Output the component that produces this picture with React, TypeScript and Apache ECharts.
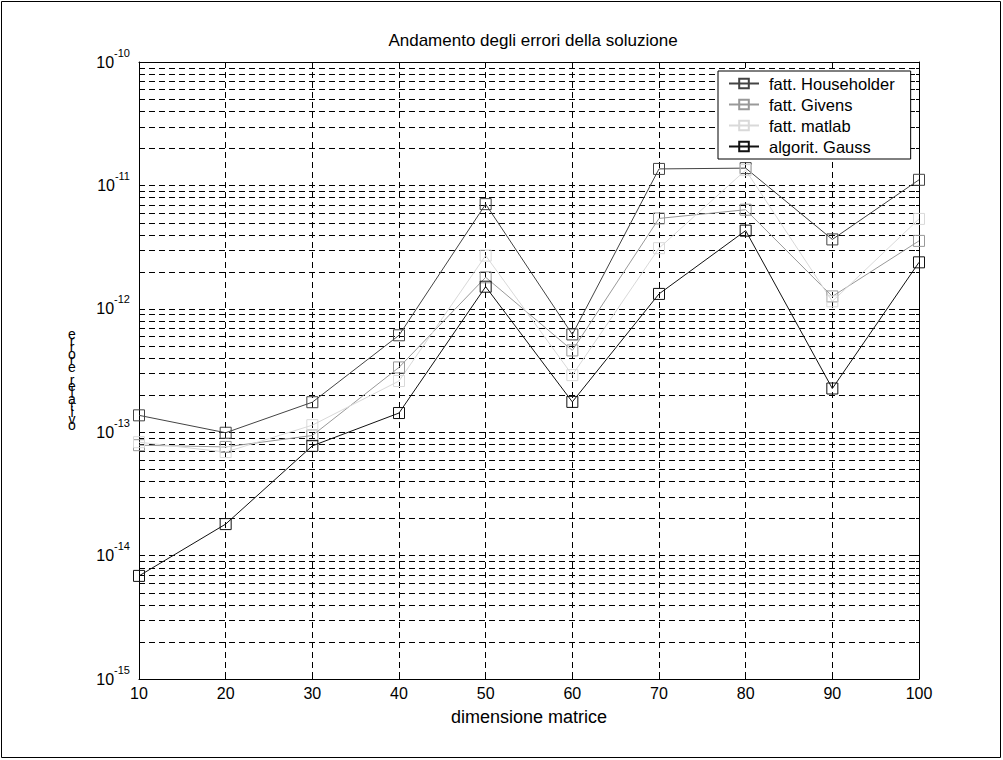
import React, { useEffect, useRef } from "react";
import * as echarts from "echarts";

const dims = [10, 20, 30, 40, 50, 60, 70, 80, 90, 100];
const householder = [1.37e-13, 0.99e-13, 1.75e-13, 6.1e-13, 7.05e-12, 6.2e-13, 1.36e-11, 1.38e-11, 3.65e-12, 1.11e-11];
const givens = [7.85e-14, 7.6e-14, 9.4e-14, 3.35e-13, 1.8e-12, 4.6e-13, 5.4e-12, 6.35e-12, 1.26e-12, 3.55e-12];
const matlab = [8.3e-14, 6.9e-14, 1.14e-13, 2.6e-13, 2.7e-12, 2.9e-13, 3.1e-12, 1.33e-11, 1.15e-12, 5.35e-12];
const gauss = [6.85e-15, 1.8e-14, 7.75e-14, 1.43e-13, 1.51e-12, 1.76e-13, 1.32e-12, 4.3e-12, 2.26e-13, 2.38e-12];

const seriesNames = ["fatt. Householder", "fatt. Givens", "fatt. matlab", "algorit. Gauss"];
const seriesColors = ["#444444", "#999999", "#d9d9d9", "#111111"];
const decades = [-15, -14, -13, -12, -11];
const minorMultipliers = [2, 3, 4, 5, 6, 7, 8, 9];

const titleText = "Andamento degli errori della soluzione";
const xName = "dimensione matrice";
const yName = "errore relativo";

const FONT = "'Liberation Sans', Arial, Helvetica, sans-serif";

export default function App() {
  const ref = useRef<HTMLDivElement>(null);
  useEffect(() => {
    if (!ref.current) return;
    const chart = echarts.init(ref.current, null, { renderer: "svg" });
    const minorValues: number[] = [];
    decades.forEach((d) => minorMultipliers.forEach((m) => minorValues.push(m * Math.pow(10, d))));
    const allData = [householder, givens, matlab, gauss];
    const dash = [6, 4];
    const yLabelFmt = (v: number) => {
      const e = Math.round(Math.log10(v));
      return `{b|10}{s|${e}}`;
    };
    const option: any = {
      animation: false,
      backgroundColor: "#fff",
      textStyle: { fontFamily: FONT },
      title: {
        text: titleText,
        left: 528,
        top: 27,
        textAlign: "center",
        textStyle: { fontFamily: FONT, fontSize: 17, fontWeight: "normal", color: "#000" },
      },
      legend: {
        data: seriesNames,
        orient: "vertical",
        left: 718,
        top: 71,
        padding: [4, 16, 4, 10],
        itemWidth: 30,
        itemHeight: 12,
        itemGap: 4,
        backgroundColor: "#fff",
        borderColor: "#000",
        borderWidth: 1,
        borderRadius: 0,
        textStyle: { fontFamily: FONT, fontSize: 16.5, lineHeight: 17, color: "#000", padding: [0, 0, 0, 5] },
      },
      grid: { left: 139, right: 84, top: 62, bottom: 81, containLabel: false },
      xAxis: [
        {
          type: "value",
          min: 10,
          max: 100,
          interval: 10,
          name: xName,
          nameLocation: "middle",
          nameGap: 29,
          nameTextStyle: { fontFamily: FONT, fontSize: 18, color: "#000" },
          axisLine: { lineStyle: { color: "#000", width: 1 } },
          axisTick: { inside: true, length: 6, lineStyle: { color: "#000" } },
          axisLabel: { fontFamily: FONT, fontSize: 16, color: "#000", margin: 6 },
          splitLine: { show: true, lineStyle: { color: "#000", type: dash, width: 1 } },
        },
        {
          type: "value",
          position: "top",
          min: 10,
          max: 100,
          interval: 10,
          axisLine: { show: true, lineStyle: { color: "#000", width: 1 } },
          axisTick: { inside: true, length: 6, lineStyle: { color: "#000" } },
          axisLabel: { show: false },
          splitLine: { show: false },
        },
      ],
      yAxis: [
        {
          type: "log",
          logBase: 10,
          min: 1e-15,
          max: 1e-10,
          splitNumber: 5,
          axisLine: { show: true, lineStyle: { color: "#000", width: 1 } },
          axisTick: { show: true, inside: true, length: 6, lineStyle: { color: "#000" } },
          axisLabel: {
            formatter: yLabelFmt,
            margin: 9,
            rich: {
              b: { fontFamily: FONT, fontSize: 16, color: "#000", lineHeight: 30, verticalAlign: "middle" },
              s: { fontFamily: FONT, fontSize: 11, color: "#000", lineHeight: 9, verticalAlign: "top" },
            },
          },
          splitLine: { show: true, lineStyle: { color: "#000", type: dash, width: 1 } },
        },
        {
          type: "log",
          logBase: 10,
          min: 1e-15,
          max: 1e-10,
          splitNumber: 5,
          position: "right",
          axisLine: { show: true, lineStyle: { color: "#000", width: 1 } },
          axisTick: { show: true, inside: true, length: 6, lineStyle: { color: "#000" } },
          axisLabel: { show: false },
          splitLine: { show: false },
        },
      ],
      series: [
        {
          type: "custom",
          name: "__minorGrid",
          silent: true,
          z: 1,
          xAxisIndex: 0,
          yAxisIndex: 0,
          data: minorValues.map((v) => [dims[0], v]),
          renderItem: (params: any, api: any) => {
            const cs = params.coordSys;
            const y = api.coord([dims[0], api.value(1)])[1];
            const yy = Math.round(y) + 0.5;
            return {
              type: "group",
              children: [
                {
                  type: "line",
                  shape: { x1: cs.x, y1: yy, x2: cs.x + cs.width, y2: yy },
                  style: { stroke: "#000", lineWidth: 1, lineDash: dash },
                },
                {
                  type: "line",
                  shape: { x1: cs.x, y1: yy, x2: cs.x + 3, y2: yy },
                  style: { stroke: "#000", lineWidth: 1 },
                },
                {
                  type: "line",
                  shape: { x1: cs.x + cs.width - 3, y1: yy, x2: cs.x + cs.width, y2: yy },
                  style: { stroke: "#000", lineWidth: 1 },
                },
              ],
            };
          },
        },
        ...seriesNames.map((name, i) => ({
          type: "line",
          name,
          z: 3,
          data: dims.map((d, j) => [d, allData[i][j]]),
          symbol: "rect",
          symbolSize: 11,
          showSymbol: true,
          lineStyle: { color: seriesColors[i], width: 1 },
          itemStyle: { color: "transparent", borderColor: seriesColors[i], borderWidth: 1 },
          emphasis: { disabled: true },
        })),
      ],
      graphic: [
        {
          type: "text",
          x: 72,
          y: 331,
          silent: true,
          style: {
            text: yName.split("").join("\n"),
            fontFamily: FONT,
            fontSize: 14,
            lineHeight: 6.5,
            align: "center",
            verticalAlign: "top",
            fill: "#000",
          },
        },
        {
          type: "rect",
          silent: true,
          shape: { x: 1.5, y: 1.5, width: 999, height: 756 },
          style: { fill: "none", stroke: "#000", lineWidth: 1 },
        },
      ],
    };
    chart.setOption(option);
    return () => chart.dispose();
  }, []);
  return (
    <div
      ref={ref}
      style={{ position: "absolute", left: 0, top: 0, width: 1003, height: 760 }}
    />
  );
}
